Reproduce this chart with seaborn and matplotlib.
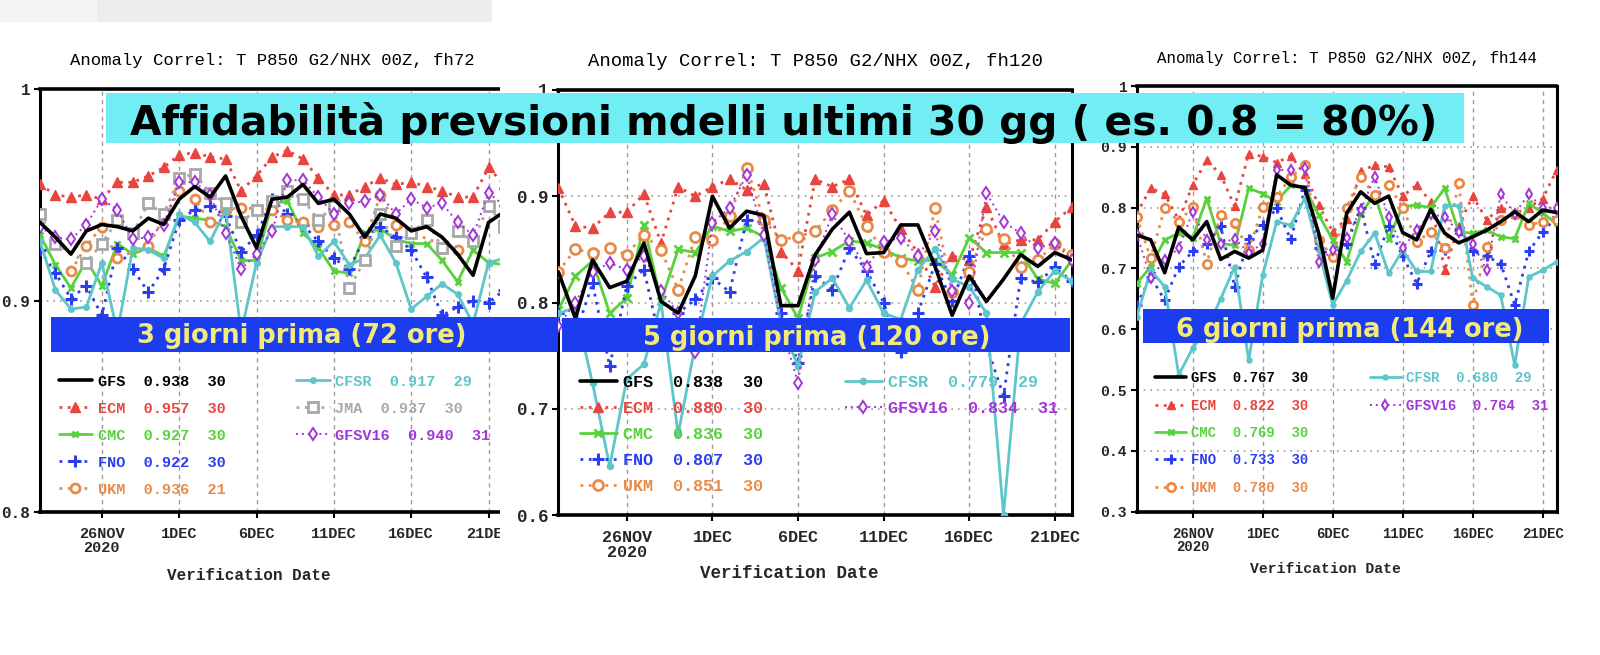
import numpy as np
import pandas as pd
import matplotlib
matplotlib.use('Agg')
import matplotlib.pyplot as plt
from matplotlib.patches import Rectangle
import seaborn as sns

nan = np.nan
W, H = 1600, 655

# --- data: anomaly correlation, T850 NH, verification 22NOV..22DEC 2020 ---
dates = pd.date_range('2020-11-22', periods=31, freq='D')
tick_dates = pd.to_datetime(['2020-11-26', '2020-12-01', '2020-12-06',
                             '2020-12-11', '2020-12-16', '2020-12-21'])
tick_labels = ['26NOV\n2020', '1DEC', '6DEC', '11DEC', '16DEC', '21DEC']

# fh72
gfs_72 = [0.937,0.930,0.922,0.933,0.936,0.935,0.933,0.939,0.936,0.948,0.954,0.949,0.959,0.940,0.925,0.948,0.949,0.955,0.946,0.948,0.941,0.930,0.941,0.939,0.933,0.935,0.930,0.922,0.912,0.937,0.942]
ecm_72 = [0.955,0.950,0.949,0.950,0.948,0.956,0.956,0.959,0.963,0.969,0.970,0.968,0.967,0.952,0.959,0.968,0.971,0.967,0.958,0.950,0.950,0.954,0.958,0.955,0.956,0.954,0.952,0.949,0.949,0.963,0.955]
cmc_72 = [0.931,0.917,0.906,0.919,0.907,0.927,0.922,0.925,0.921,0.940,0.939,0.938,0.935,0.919,0.919,0.946,0.947,0.932,0.925,0.914,0.913,0.932,0.934,0.929,0.927,0.927,0.919,0.909,0.924,0.918,0.917]
fno_72 = [0.924,0.913,0.901,0.907,0.893,0.925,0.915,0.904,0.915,0.938,0.943,0.945,0.940,0.923,0.931,0.948,0.941,0.936,0.928,0.920,0.915,0.930,0.935,0.930,0.924,0.911,0.893,0.897,0.900,0.899,0.905]
ukm_72 = [nan,nan,0.914,0.926,0.935,0.920,nan,0.926,nan,0.952,0.948,0.937,0.943,0.944,nan,0.943,0.938,0.937,0.935,0.936,0.937,0.928,0.950,0.936,0.932,nan,nan,0.924,nan,nan,nan]
cfsr_72 = [0.928,0.905,0.896,0.897,0.918,0.885,0.925,0.924,0.920,0.941,0.937,0.928,0.943,0.885,0.918,0.935,0.935,0.935,0.921,0.928,0.917,0.920,0.931,0.918,0.896,0.902,0.908,0.903,0.889,0.918,0.920]
jma_72 = [0.941,0.927,nan,0.918,0.927,0.938,0.932,0.946,0.941,0.958,0.960,0.951,0.946,0.937,0.943,0.947,0.952,0.948,0.938,0.945,0.906,0.919,0.941,0.926,0.932,0.938,0.925,0.933,0.928,0.945,0.935]
gfsv16_72 = [0.935,0.930,0.929,0.936,0.948,0.943,0.929,0.930,0.936,0.956,0.956,0.950,0.932,0.915,0.922,0.933,0.957,0.957,0.949,0.941,0.946,0.947,0.950,0.941,0.948,0.944,0.946,0.937,0.931,0.951,0.945]

# fh120
gfs_120 = [0.829,0.785,0.840,0.814,0.820,0.856,0.801,0.790,0.825,0.900,0.870,0.886,0.882,0.797,0.797,0.845,0.869,0.885,0.846,0.847,0.873,0.873,0.834,0.788,0.825,0.801,0.822,0.845,0.834,0.847,0.840]
ecm_120 = [0.908,0.872,0.870,0.885,0.885,0.902,0.856,0.909,0.900,0.909,0.916,0.906,0.912,0.848,0.830,0.916,0.909,0.916,0.882,0.896,0.869,0.847,0.815,0.844,0.840,0.890,0.855,0.859,0.859,0.876,0.890]
cmc_120 = [0.793,0.825,0.839,0.790,0.804,0.873,0.801,0.850,0.847,0.872,0.867,0.870,0.862,0.814,0.785,0.842,0.848,0.858,0.856,0.850,0.842,0.839,0.840,0.826,0.861,0.847,0.847,0.847,0.822,0.818,0.840]
fno_120 = [0.790,0.770,0.818,0.740,0.816,0.831,0.760,0.790,0.803,0.823,0.810,0.878,0.875,0.790,0.743,0.825,0.812,0.851,0.830,0.800,0.753,0.790,0.836,0.801,0.844,0.760,0.712,0.823,0.819,0.833,0.820]
ukm_120 = [0.829,0.850,0.847,0.851,0.845,0.864,0.849,0.812,0.862,0.859,0.881,0.927,0.878,0.859,0.862,0.867,0.887,0.905,0.872,0.848,0.839,0.812,0.889,0.810,0.829,0.869,0.860,0.833,0.840,0.855,0.845]
cfsr_120 = [0.790,0.795,0.724,0.646,0.728,0.742,0.800,0.676,0.760,0.825,0.839,0.848,0.861,0.780,0.740,0.810,0.823,0.795,0.821,0.790,0.784,0.831,0.850,0.822,0.815,0.790,0.600,0.780,0.810,0.830,0.820]
gfsv16_120 = [0.778,0.800,0.829,0.837,0.831,0.844,0.811,0.790,0.753,0.875,0.889,0.920,0.864,0.780,0.724,0.840,0.883,0.858,0.833,0.857,0.861,0.844,0.867,0.811,0.800,0.903,0.876,0.865,0.851,0.856,0.840]

# fh144
gfs_144 = [0.755,0.747,0.693,0.768,0.747,0.777,0.715,0.728,0.717,0.730,0.854,0.837,0.833,0.758,0.651,0.791,0.826,0.807,0.819,0.759,0.747,0.797,0.758,0.742,0.752,0.763,0.777,0.793,0.777,0.796,0.792]
ecm_144 = [0.790,0.832,0.822,0.780,0.837,0.878,0.854,0.802,0.889,0.884,0.874,0.885,0.856,0.804,0.760,0.782,0.860,0.870,0.867,0.819,0.837,0.810,0.697,0.770,0.819,0.780,0.800,0.790,0.800,0.815,0.862]
cmc_144 = [0.675,0.703,0.747,0.758,0.750,0.815,0.741,0.738,0.832,0.823,0.810,0.837,0.833,0.788,0.747,0.711,0.790,0.822,0.749,0.802,0.804,0.800,0.832,0.760,0.758,0.763,0.752,0.749,0.807,0.791,0.774]
fno_144 = [0.640,0.686,0.648,0.703,0.728,0.740,0.769,0.670,0.749,0.771,0.799,0.748,0.829,0.733,0.720,0.740,0.800,0.708,0.770,0.720,0.675,0.728,0.730,0.764,0.728,0.720,0.708,0.640,0.728,0.760,0.785]
ukm_144 = [0.785,0.717,0.800,0.777,0.801,0.708,0.788,0.774,0.730,0.801,0.818,0.850,0.870,0.747,0.719,0.800,0.851,0.820,0.837,0.800,0.744,0.760,0.733,0.840,0.640,0.736,0.780,0.790,0.771,0.777,0.780]
cfsr_144 = [0.620,0.697,0.670,0.525,0.569,0.600,0.650,0.703,0.549,0.689,0.777,0.771,0.815,0.730,0.640,0.680,0.728,0.758,0.692,0.730,0.695,0.695,0.803,0.803,0.684,0.670,0.656,0.541,0.686,0.697,0.711]
gfsv16_144 = [0.757,0.684,0.714,0.733,0.793,0.747,0.741,0.749,0.726,0.741,0.862,0.862,0.865,0.711,0.730,0.750,0.796,0.851,0.785,0.733,0.763,0.789,0.785,0.760,0.741,0.697,0.822,0.790,0.822,0.800,0.800]

# legend statistics (mean, number of cases)
stats_72 = {'GFS': ('0.938', 30), 'ECM': ('0.957', 30), 'CMC': ('0.927', 30), 'FNO': ('0.922', 30),
            'UKM': ('0.936', 21), 'CFSR': ('0.917', 29), 'JMA': ('0.937', 30), 'GFSV16': ('0.940', 31)}
stats_120 = {'GFS': ('0.838', 30), 'ECM': ('0.880', 30), 'CMC': ('0.836', 30), 'FNO': ('0.807', 30),
             'UKM': ('0.851', 30), 'CFSR': ('0.779', 29), 'GFSV16': ('0.834', 31)}
stats_144 = {'GFS': ('0.767', 30), 'ECM': ('0.822', 30), 'CMC': ('0.769', 30), 'FNO': ('0.733', 30),
             'UKM': ('0.780', 30), 'CFSR': ('0.680', 29), 'GFSV16': ('0.764', 31)}

STYLE = {
    'GFS':    dict(color='black',   ls='-',          lw=2.6, marker=None, ms=0, mfc='black', mew=0, z=6),
    'ECM':    dict(color='#e8453f', ls=(0, (1, 2)),  lw=2.0, marker='^', ms=6.5, mfc='#e8453f', mew=1, z=3),
    'CMC':    dict(color='#58d23c', ls='-',          lw=2.0, marker='x', ms=5, mfc='#58d23c', mew=2, z=3),
    'FNO':    dict(color='#2a3ef0', ls=(0, (1, 2)),  lw=2.0, marker='+', ms=8, mfc='#2a3ef0', mew=2.2, z=3),
    'UKM':    dict(color='#e88b48', ls=(0, (1, 2)),  lw=2.0, marker='o', ms=6.5, mfc='white', mew=2, z=3),
    'CFSR':   dict(color='#5cc6cb', ls='-',          lw=2.0, marker='o', ms=4, mfc='#5cc6cb', mew=1, z=3),
    'JMA':    dict(color='#a8a8a8', ls=(0, (1, 2)),  lw=2.0, marker='s', ms=6.5, mfc='white', mew=2, z=3),
    'GFSV16': dict(color='#a236d6', ls=(0, (1, 2)),  lw=1.4, marker='d', ms=6, mfc='white', mew=1.4, z=4),
}

panels = [
    dict(title='Anomaly Correl: T P850 G2/NHX 00Z, fh72', ylim=(0.8, 1.0),
         series={'GFS': gfs_72, 'ECM': ecm_72, 'CMC': cmc_72, 'FNO': fno_72, 'UKM': ukm_72,
                 'CFSR': cfsr_72, 'JMA': jma_72, 'GFSV16': gfsv16_72}, stats=stats_72,
         box=(40, 89.3, 504, 512), s=1.0, title_xy=(272, 61), xlab_y=575,
         leg1=(0.040, 0.325), leg2=(0.552, 0.325), lsp=0.85, right=False),
    dict(title='Anomaly Correl: T P850 G2/NHX 00Z, fh120', ylim=(0.6, 1.0),
         series={'GFS': gfs_120, 'ECM': ecm_120, 'CMC': cmc_120, 'FNO': fno_120, 'UKM': ukm_120,
                 'CFSR': cfsr_120, 'GFSV16': gfsv16_120}, stats=stats_120,
         box=(558.3, 90, 1072, 515), s=1.1, title_xy=(815, 61), xlab_y=573,
         leg1=(0.042, 0.330), leg2=(0.558, 0.330), lsp=0.66, right=True),
    dict(title='Anomaly Correl: T P850 G2/NHX 00Z, fh144', ylim=(0.3, 1.0),
         series={'GFS': gfs_144, 'ECM': ecm_144, 'CMC': cmc_144, 'FNO': fno_144, 'UKM': ukm_144,
                 'CFSR': cfsr_144, 'GFSV16': gfsv16_144}, stats=stats_144,
         box=(1136.7, 86, 1556.7, 511.7), s=0.92, title_xy=(1347, 59), xlab_y=569,
         leg1=(0.044, 0.330), leg2=(0.555, 0.330), lsp=0.95, right=True),
]

sns.set_theme(style='white')
plt.rcParams['font.family'] = ['Liberation Mono', 'DejaVu Sans Mono']


def fbox(x0, y0, x1, y1):
    return [x0 / W, 1 - y1 / H, (x1 - x0) / W, (y1 - y0) / H]


fig = plt.figure(figsize=(W / 100, H / 100), dpi=100, facecolor='white')

# light grey strip at the top left of the screenshot
fig.add_artist(Rectangle((0, 1 - 22 / H), 97 / W, 22 / H, transform=fig.transFigure,
                         facecolor='#f5f5f5', edgecolor='none', zorder=0))
fig.add_artist(Rectangle((97 / W, 1 - 22 / H), (492 - 97) / W, 22 / H, transform=fig.transFigure,
                         facecolor='#ededed', edgecolor='none', zorder=0))

for k, p in enumerate(panels):
    s = p['s']
    ax = fig.add_axes(fbox(*p['box']))
    ax.set_zorder(1 if k == 0 else 3)
    ax.set_facecolor('white')

    order = [m for m in ['ECM', 'CMC', 'FNO', 'UKM', 'CFSR', 'JMA', 'GFSV16', 'GFS'] if m in p['series']]
    for m in order:
        st = STYLE[m]
        mean, n = p['stats'][m]
        sns.lineplot(x=dates, y=p['series'][m], ax=ax, color=st['color'], linestyle=st['ls'],
                     linewidth=st['lw'], marker=st['marker'], markersize=st['ms'] * s,
                     markerfacecolor=st['mfc'], markeredgecolor=st['color'],
                     markeredgewidth=st['mew'], zorder=st['z'], label=f"{m}  {mean}  {n}")

    y0, y1 = p['ylim']
    ax.set_xlim(dates[0], dates[-1])
    ax.set_ylim(y0, y1)
    yt = np.round(np.arange(y0, y1 + 0.001, 0.1), 1)
    ax.set_yticks(yt)
    ax.set_yticklabels([f'{v:g}' for v in yt], fontweight='bold', fontsize=11.5 * s)
    ax.set_xticks(tick_dates)
    ax.set_xticklabels(tick_labels, fontweight='bold', fontsize=11 * s, linespacing=0.95)
    ax.tick_params(axis='both', direction='out', length=4, width=1.5, color='black', pad=3,
                   left=True, bottom=True)
    ax.tick_params(axis='x', pad=7)

    ax.grid(True, axis='x', color='#9c9c9c', linestyle=(0, (3, 3)), linewidth=1.0)
    ax.grid(True, axis='y', color='#9c9c9c', linestyle=(0, (1, 3)), linewidth=1.2)
    for side in ['top', 'bottom']:
        ax.spines[side].set_linestyle((0, (2, 1)))
        ax.spines[side].set_linewidth(2.6)
        ax.spines[side].set_color('black')
    ax.spines['left'].set_linewidth(2.2)
    ax.spines['left'].set_color('black')
    ax.spines['right'].set_visible(p['right'])
    ax.spines['right'].set_linewidth(2.2)
    ax.spines['right'].set_color('black')

    ax.set_xlabel('Verification Date', fontsize=11.5 * s, fontweight='bold')
    ax.set_ylabel('')
    bx = p['box']
    ax.xaxis.set_label_coords(0.45, -(p['xlab_y'] - bx[3]) / (bx[3] - bx[1]))
    ax.xaxis.label.set_va('center')

    handles, labels = ax.get_legend_handles_labels()
    lut = dict(zip([l.split()[0] for l in labels], zip(handles, labels)))
    col1 = [lut[m] for m in ['GFS', 'ECM', 'CMC', 'FNO', 'UKM']]
    col2 = [lut[m] for m in ['CFSR', 'JMA', 'GFSV16'] if m in lut]
    kw = dict(loc='upper left', frameon=False, labelcolor='linecolor',
              prop=dict(family=['Liberation Mono', 'DejaVu Sans Mono'], size=11 * s, weight='bold'),
              handlelength=2.2, handletextpad=0.35, labelspacing=p['lsp'], borderpad=0,
              borderaxespad=0, numpoints=1)
    leg1 = ax.legend([h for h, _ in col1], [l for _, l in col1], bbox_to_anchor=p['leg1'], **kw)
    ax.add_artist(leg1)
    ax.legend([h for h, _ in col2], [l for _, l in col2], bbox_to_anchor=p['leg2'], **kw)

    fig.text(p['title_xy'][0] / W, 1 - p['title_xy'][1] / H, p['title'],
             ha='center', va='center', fontsize=12.4 * s, color='black')

# panel 1 screenshot is cut off by the panel 2 screenshot
fig.add_artist(Rectangle((499.5 / W, 0), (557.5 - 499.5) / W, 1 - 22 / H, transform=fig.transFigure,
                         facecolor='white', edgecolor='none', zorder=2))

# overlay banners
banner_font = ['DejaVu Sans']
fig.add_artist(Rectangle((106 / W, 1 - 143.3 / H), (1464 - 106) / W, 50.3 / H,
                         transform=fig.transFigure, facecolor='#70eef4', edgecolor='none', zorder=10))
fig.text(784 / W, 1 - 135 / H, 'Affidabilità prevsioni mdelli ultimi 30 gg ( es. 0.8 = 80%)',
         ha='center', va='baseline', fontsize=29.3, fontweight='bold', color='black',
         family=banner_font, zorder=11)

blue_boxes = [(50.7, 317.3, 558.0, 351.7), (561.5, 318.3, 1070, 351.7), (1143.3, 309.3, 1549.3, 343.3)]
blue_texts = ['3 giorni prima (72 ore)', '5 giorni prima (120 ore)', '6 giorni prima (144 ore)']
blue_centers = [(302, 343.3), (817, 345), (1350, 336.7)]
for (x0, y0, x1, y1), t, (cx, by) in zip(blue_boxes, blue_texts, blue_centers):
    fig.add_artist(Rectangle((x0 / W, 1 - y1 / H), (x1 - x0) / W, (y1 - y0) / H,
                             transform=fig.transFigure, facecolor='#1c3cf0', edgecolor='none', zorder=10))
    fig.text(cx / W, 1 - by / H, t, ha='center', va='baseline', fontsize=18.5, fontweight='bold',
             color='#f3ea7b', family=banner_font, zorder=11)

fig.savefig('out.png', dpi=100, facecolor='white')
